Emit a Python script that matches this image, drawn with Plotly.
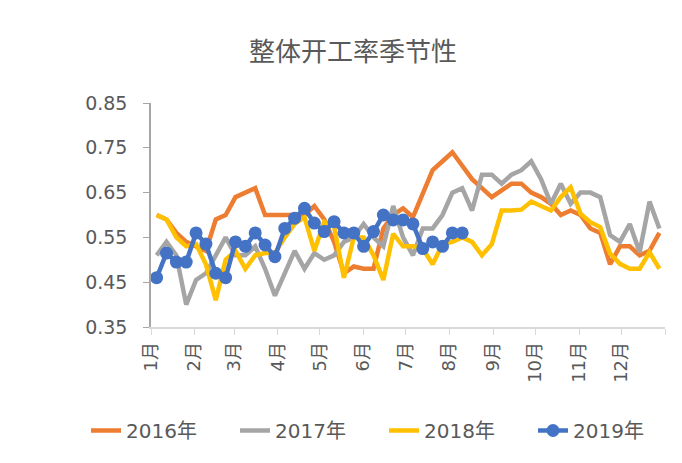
import pandas as pd
import plotly.graph_objects as go

# weekly observation dates (plotted on a common reference year)
week_dates = pd.date_range("2019-01-05", periods=52, freq="7D")

s2016 = [0.60, 0.59, 0.56, 0.54, 0.53, 0.52, 0.59, 0.60, 0.64, 0.65,
         0.66, 0.60, 0.60, 0.60, 0.60, 0.60, 0.62, 0.59, 0.54, 0.47,
         0.485, 0.48, 0.48, 0.57, 0.60, 0.615, 0.595, 0.65, 0.70, 0.72,
         0.74, 0.71, 0.68, 0.66, 0.64, 0.655, 0.67, 0.67, 0.65, 0.64,
         0.625, 0.60, 0.61, 0.60, 0.57, 0.56, 0.49, 0.53, 0.53, 0.51,
         0.52, 0.56]
s2017 = [0.51, 0.54, 0.51, 0.40, 0.455, 0.47, 0.51, 0.55, 0.51, 0.51,
         0.53, 0.48, 0.42, 0.47, 0.52, 0.48, 0.515, 0.50, 0.51, 0.54,
         0.55, 0.58, 0.55, 0.53, 0.62, 0.55, 0.51, 0.57, 0.57, 0.60,
         0.65, 0.66, 0.61, 0.69, 0.69, 0.67, 0.69, 0.70, 0.72, 0.68,
         0.625, 0.67, 0.625, 0.65, 0.65, 0.64, 0.555, 0.54, 0.58, 0.517,
         0.63, 0.57]
s2018 = [0.60, 0.59, 0.55, 0.53, 0.535, 0.49, 0.41, 0.50, 0.52, 0.48,
         0.51, 0.515, 0.515, 0.55, 0.58, 0.595, 0.52, 0.585, 0.575, 0.46,
         0.55, 0.55, 0.51, 0.455, 0.558, 0.53, 0.53, 0.525, 0.49, 0.535,
         0.54, 0.55, 0.54, 0.51, 0.535, 0.61, 0.61, 0.612, 0.63, 0.62,
         0.61, 0.64, 0.662, 0.603, 0.584, 0.573, 0.514, 0.491, 0.48, 0.48,
         0.517, 0.48]
s2019 = [0.46, 0.515, 0.495, 0.495, 0.56, 0.535, 0.47, 0.46, 0.54, 0.53,
         0.56, 0.533, 0.507, 0.57, 0.593, 0.615, 0.582, 0.563, 0.585, 0.56,
         0.56, 0.53, 0.563, 0.60, 0.589, 0.589, 0.58, 0.525, 0.54, 0.53,
         0.56, 0.56]

series_names = ["2016年", "2017年", "2018年", "2019年"]
series_colors = ["#ED7D31", "#A5A5A5", "#FFC000", "#4472C4"]

month_starts = pd.date_range("2019-01-01", periods=13, freq="MS")
month_labels = ["1月", "2月", "3月", "4月", "5月", "6月", "7月", "8月",
                "9月", "10月", "11月", "12月", ""]
y_ticks = [0.35, 0.45, 0.55, 0.65, 0.75, 0.85]

FONT = "DejaVu Sans, Noto Sans CJK SC"
CJK = "Noto Sans CJK SC"
TXT = "#595959"

fig = go.Figure()
for name, vals, col in zip(series_names, [s2016, s2017, s2018, s2019], series_colors):
    is_marker = name == "2019年"
    fig.add_trace(go.Scatter(
        x=week_dates[:len(vals)], y=vals, name=name,
        mode="lines+markers" if is_marker else "lines",
        line=dict(color=col, width=4.5),
        marker=dict(size=13, color=col) if is_marker else None,
    ))

# page body has an 8px margin, so the figure is drawn 8px smaller
fig.update_layout(
    width=674, height=455,
    margin=dict(l=143, r=17, t=95, b=136),
    paper_bgcolor="white", plot_bgcolor="white",
    font=dict(family=FONT, color=TXT, size=18),
    title=dict(text="整体开工率季节性", x=345 / 674, xanchor="center",
               y=1 - 44 / 455, yanchor="middle",
               font=dict(size=26, color=TXT, family=CJK)),
    showlegend=True,
    legend=dict(orientation="h", x=-0.035, xanchor="left",
                y=-0.462, yanchor="middle",
                font=dict(size=20, color=TXT, family=FONT),
                entrywidth=104, entrywidthmode="pixels",
                bgcolor="rgba(0,0,0,0)"),
)

fig.update_xaxes(
    type="date", range=[month_starts[0], month_starts[-1]],
    tickmode="array", tickvals=month_starts, ticktext=month_labels,
    tickangle=-90, ticks="outside", ticklen=6, tickcolor="#D9D9D9",
    showline=True, linecolor="#D9D9D9", linewidth=1.5,
    showgrid=False, zeroline=False,
    tickfont=dict(size=18, color=TXT, family=FONT),
)
fig.update_yaxes(
    range=[0.35, 0.85], tickmode="array", tickvals=y_ticks,
    ticktext=[f"{v:.2f}" for v in y_ticks],
    ticks="outside", ticklen=6, tickcolor="#A6A6A6",
    showline=True, linecolor="#A6A6A6", linewidth=1.5,
    showgrid=False, zeroline=False, ticklabelstandoff=12,
    tickfont=dict(size=19, color=TXT, family=FONT),
)

fig.write_html("out.html")
